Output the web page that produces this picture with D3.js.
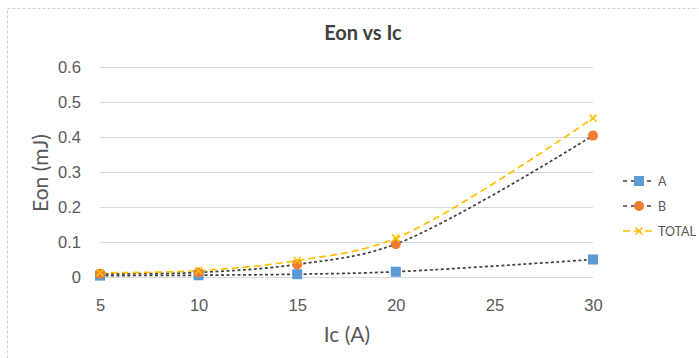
<!DOCTYPE html>
<html>
<head>
<meta charset="utf-8">
<script src="https://cdn.jsdelivr.net/npm/d3@7"></script>
<style>
    body { margin: 0; background: #fff; }
    svg { display: block; font-family: Lato, "Open Sans", sans-serif; }
</style>
</head>
<body>
<svg id="chart" width="699" height="358"></svg>
<script>
// Chart data
const currents = [5, 10, 15, 20, 30];
const eonA = [0.004, 0.005, 0.008, 0.015, 0.05];
const eonB = [0.009, 0.013, 0.036, 0.094, 0.404];
const eonTotal = [0.012, 0.018, 0.047, 0.111, 0.454];
const xTicks = [5, 10, 15, 20, 25, 30];
const yTicks = [0, 0.1, 0.2, 0.3, 0.4, 0.5, 0.6];

const series = [
    { name: 'A', values: eonA, color: '#5b9bd5', line: '#404040', dash: '3,2.5', marker: 'square' },
    { name: 'B', values: eonB, color: '#ed7d31', line: '#404040', dash: '3,2.5', marker: 'circle' },
    { name: 'TOTAL', values: eonTotal, color: '#ffc000', line: '#ffc000', dash: '7,4', marker: 'x' }
];

const svg = d3.select('#chart');

// Chart border (dashed, runs off the right/bottom edge)
svg.append('rect')
    .attr('x', 7.5).attr('y', 8.5)
    .attr('width', 720).attr('height', 380)
    .attr('fill', 'none')
    .attr('stroke', '#d0d0d0')
    .attr('stroke-dasharray', '3,2');

// Scales
const x = d3.scaleLinear().domain([5, 30]).range([100, 593]);
const y = d3.scaleLinear().domain([0, 0.6]).range([277, 67]);

// Gridlines
svg.append('g')
    .selectAll('line')
    .data(yTicks)
    .enter().append('line')
    .attr('x1', 100).attr('x2', 593)
    .attr('y1', d => Math.round(y(d)) + 0.5)
    .attr('y2', d => Math.round(y(d)) + 0.5)
    .attr('stroke', '#d9d9d9')
    .attr('stroke-width', 1);

// Axes (text only, Excel-like)
const yAxis = svg.append('g')
    .attr('transform', 'translate(100,0)')
    .call(d3.axisLeft(y).tickValues(yTicks).tickSize(0).tickPadding(19).tickFormat(d => d === 0 ? '0' : d3.format('.1f')(d)));
yAxis.select('.domain').remove();
yAxis.selectAll('text')
    .attr('fill', '#595959')
    .style('font-size', '16.5px');

const xAxis = svg.append('g')
    .attr('transform', 'translate(0,277)')
    .call(d3.axisBottom(x).tickValues(xTicks).tickSize(0).tickPadding(22));
xAxis.select('.domain').remove();
xAxis.selectAll('text')
    .attr('fill', '#595959')
    .style('font-size', '16.5px');

// Titles
svg.append('text')
    .attr('x', 363).attr('y', 40)
    .attr('text-anchor', 'middle')
    .attr('fill', '#404040')
    .style('font-size', '20px')
    .style('font-weight', 'bold')
    .text('Eon vs Ic');

svg.append('text')
    .attr('x', 347).attr('y', 342)
    .attr('text-anchor', 'middle')
    .attr('fill', '#595959')
    .style('font-size', '21px')
    .text('Ic (A)');

svg.append('text')
    .attr('transform', 'translate(48,173) rotate(-90)')
    .attr('text-anchor', 'middle')
    .attr('fill', '#595959')
    .style('font-size', '21px')
    .text('Eon (mJ)');

// Lines
const line = d3.line()
    .x(d => x(d[0]))
    .y(d => y(d[1]))
    .curve(d3.curveCatmullRom.alpha(0.5));

const plot = svg.append('g');

series.forEach(s => {
    const pts = currents.map((c, i) => [c, s.values[i]]);
    plot.append('path')
        .datum(pts)
        .attr('d', line)
        .attr('fill', 'none')
        .attr('stroke', s.line)
        .attr('stroke-width', 1.7)
        .attr('stroke-dasharray', s.dash);
});

/**
 * Draw a marker of the given kind centred at cx, cy
 */
function drawMarker(sel, s, cx, cy) {
    if (s.marker === 'square') {
        sel.append('rect')
            .attr('x', cx - 5).attr('y', cy - 5)
            .attr('width', 10).attr('height', 10)
            .attr('fill', s.color);
    } else if (s.marker === 'circle') {
        sel.append('circle')
            .attr('cx', cx).attr('cy', cy).attr('r', 5)
            .attr('fill', s.color);
    } else {
        sel.append('path')
            .attr('d', `M${cx - 3.5},${cy - 3.5}L${cx + 3.5},${cy + 3.5}M${cx - 3.5},${cy + 3.5}L${cx + 3.5},${cy - 3.5}`)
            .attr('stroke', s.color)
            .attr('stroke-width', 1.6)
            .attr('fill', 'none');
    }
}

series.forEach(s => {
    const g = plot.append('g');
    currents.forEach((c, i) => drawMarker(g, s, x(c), y(s.values[i])));
});

// Legend
const legend = svg.append('g');
series.forEach((s, i) => {
    const ly = 181 + i * 25;
    legend.append('line')
        .attr('x1', 623).attr('x2', 653)
        .attr('y1', ly).attr('y2', ly)
        .attr('stroke', s.line)
        .attr('stroke-width', 1.6)
        .attr('stroke-dasharray', s.marker === 'x' ? '7,4' : '4,4');
    drawMarker(legend, s, 639, ly);
    legend.append('text')
        .attr('x', 658).attr('y', ly + 4.5)
        .attr('fill', '#595959')
        .style('font-size', '12.5px')
        .text(s.name);
});
</script>
</body>
</html>
